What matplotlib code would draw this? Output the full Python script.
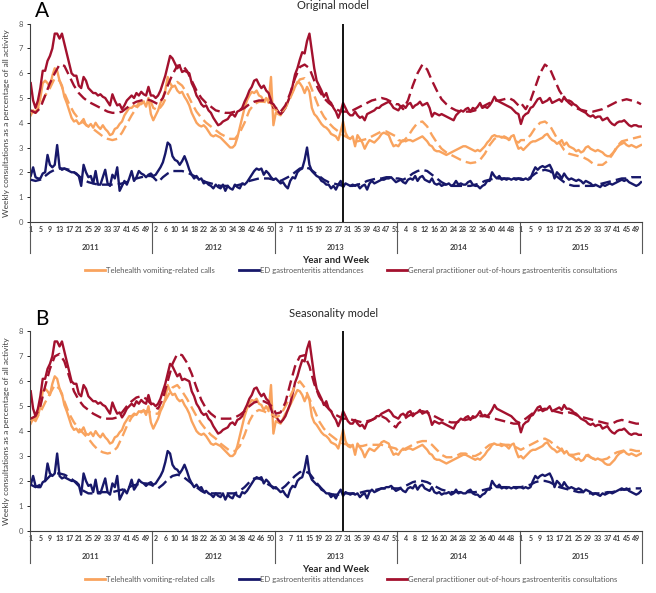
import numpy as np
import matplotlib.pyplot as plt
from matplotlib.lines import Line2D

plt.rcParams['font.family'] = ['Lato', 'DejaVu Sans']

years = ["2011", "2012", "2013", "2014", "2015"]
weeks_per_year = 51
cut_week = 130  # start of the prospective period (2013 week 29)

series_names = ["Telehealth vomiting-related calls",
                "ED gastroenteritis attendances",
                "General practitioner out-of-hours gastroenteritis consultations"]

# observed weekly values (% of all activity), one row of 51 per year
tele_obs = [
    4.3, 4.5, 4.4, 4.6, 5.0, 5.6, 5.7, 5.6, 5.45, 5.9, 6.2, 6.1, 5.7, 5.5, 5.05, 4.8, 4.5, 4.2, 4.05, 4.1,
    3.95, 4.0, 4.15, 3.9, 3.85, 3.95, 3.8, 4.0, 3.85, 3.75, 3.9, 3.75, 3.65, 3.5, 3.55, 3.75, 3.8, 3.95, 4.05, 4.3,
    4.45, 4.6, 4.6, 4.7, 4.65, 4.8, 4.75, 4.85, 4.65, 5.0, 4.35,
    4.1, 4.3, 4.5, 4.8, 5.0, 5.3, 5.85, 5.6, 5.45, 5.5, 5.3, 5.2, 5.25, 5.05, 4.9, 4.7, 4.4, 4.2, 4.0, 3.9,
    3.85, 3.9, 3.8, 3.65, 3.5, 3.45, 3.5, 3.45, 3.4, 3.3, 3.2, 3.1, 3.0, 3.0, 3.1, 3.4, 3.8, 4.2, 4.6, 4.9,
    5.1, 5.25, 5.2, 5.3, 5.1, 5.05, 4.85, 5.0, 4.8, 5.85, 3.9,
    4.4, 4.35, 4.3, 4.5, 4.7, 4.85, 5.05, 5.25, 5.45, 5.65, 5.6, 5.45, 5.2, 5.45, 5.25, 4.6, 4.35, 4.25, 4.1, 3.95,
    3.85, 3.8, 3.7, 3.55, 3.5, 3.45, 3.3, 3.65, 4.05, 3.6, 3.4, 3.35, 3.45, 3.05, 3.5, 3.35, 3.2, 2.95, 3.15, 3.3,
    3.25, 3.2, 3.3, 3.4, 3.55, 3.6, 3.55, 3.5, 3.25, 3.05, 3.1,
    3.05, 3.2, 3.3, 3.25, 3.3, 3.3, 3.25, 3.3, 3.35, 3.4, 3.45, 3.35, 3.25, 3.1, 3.05, 2.9, 2.85, 2.85, 2.8, 2.75,
    2.7, 2.75, 2.8, 2.85, 2.9, 2.95, 3.0, 3.05, 3.05, 3.0, 2.95, 2.9, 2.85, 2.9, 2.85, 2.95, 3.05, 3.2, 3.3, 3.45,
    3.5, 3.45, 3.45, 3.4, 3.45, 3.4, 3.3, 3.45, 3.5, 3.2, 2.95,
    3.0, 2.9, 3.0, 3.1, 3.2, 3.25, 3.25, 3.3, 3.35, 3.4, 3.5, 3.55, 3.4, 3.3, 3.25, 3.15, 3.2, 3.3, 3.1, 3.2,
    3.05, 3.0, 2.95, 2.85, 2.9, 2.8, 2.85, 3.0, 3.05, 2.95, 2.9, 2.85, 2.9, 2.85, 2.8, 2.7, 2.65, 2.65, 2.75, 2.85,
    3.0, 3.1, 3.15, 3.2, 3.1, 3.05, 3.1, 3.05, 3.0, 3.05, 3.1,
]
ed_obs = [
    1.85, 2.2, 1.8, 1.75, 1.75, 1.95, 2.0, 2.7, 2.3, 2.2, 2.3, 3.1, 2.2, 2.1, 2.15, 2.1, 2.05, 2.0, 2.0, 1.95,
    1.85, 1.45, 2.3, 2.0, 1.8, 1.85, 1.55, 2.05, 1.5, 1.5, 1.8, 2.1, 1.55, 1.45, 1.9, 1.75, 2.2, 1.25, 1.45, 1.65,
    1.5, 1.75, 2.05, 1.65, 1.8, 2.05, 1.95, 1.9, 1.8, 1.9, 1.95,
    1.85, 1.9, 2.05, 2.2, 2.4, 2.75, 3.2, 3.1, 2.65, 2.5, 2.45, 2.3, 2.45, 2.65, 2.4, 2.1, 1.9, 1.75, 1.85, 1.7,
    1.75, 1.55, 1.6, 1.5, 1.45, 1.35, 1.5, 1.4, 1.35, 1.5, 1.25, 1.45, 1.35, 1.3, 1.5, 1.4, 1.35, 1.55, 1.5, 1.6,
    1.75, 1.9, 2.05, 2.15, 2.1, 2.15, 1.9, 2.05, 1.95, 1.8, 1.7,
    1.75, 1.65, 1.55, 1.6, 1.45, 1.35, 1.65, 1.8, 1.75, 2.0, 2.1, 2.15, 2.5, 3.0, 2.3, 2.05, 1.95, 1.85, 1.8, 1.65,
    1.6, 1.5, 1.5, 1.35, 1.45, 1.3, 1.5, 1.65, 1.4, 1.55, 1.5, 1.45, 1.5, 1.45, 1.5, 1.35, 1.45, 1.5, 1.3, 1.55,
    1.65, 1.55, 1.6, 1.65, 1.7, 1.7, 1.75, 1.75, 1.8, 1.7, 1.6,
    1.65, 1.7, 1.6, 1.55, 1.7, 1.75, 1.7, 1.85, 1.65, 1.8, 1.85, 1.7, 1.65, 1.6, 1.75, 1.55, 1.5, 1.55, 1.45, 1.5,
    1.5, 1.55, 1.45, 1.5, 1.65, 1.5, 1.55, 1.5, 1.5, 1.6, 1.65, 1.5, 1.45, 1.45, 1.35, 1.45, 1.5, 1.65, 1.65, 2.0,
    1.85, 1.75, 1.85, 1.7, 1.75, 1.7, 1.75, 1.7, 1.75, 1.7, 1.75,
    1.75, 1.7, 1.75, 1.7, 1.75, 2.0, 2.2, 2.1, 2.2, 2.25, 2.2, 2.25, 2.3, 2.1, 1.75, 2.0, 1.9, 1.75, 1.95, 1.8,
    1.7, 1.75, 1.7, 1.65, 1.7, 1.65, 1.55, 1.65, 1.6, 1.55, 1.45, 1.5, 1.45, 1.4, 1.5, 1.45, 1.5, 1.55, 1.5, 1.55,
    1.6, 1.65, 1.7, 1.65, 1.7, 1.6, 1.55, 1.5, 1.45, 1.5, 1.6,
]
gp_obs = [
    5.6, 4.9, 4.6, 4.9, 5.4, 6.1, 6.1, 6.5, 6.7, 7.0, 7.6, 7.6, 7.4, 7.6, 7.2, 6.8, 6.4, 6.0, 5.9, 5.9,
    5.5, 5.4, 5.85, 5.7, 5.4, 5.3, 5.2, 5.2, 5.1, 5.15, 5.05, 5.0, 4.85, 4.7, 5.15, 4.9, 4.7, 4.75, 4.55, 4.7,
    4.9, 5.0, 5.1, 5.0, 5.2, 5.1, 5.25, 5.15, 5.1, 5.45, 5.1,
    5.1, 5.0, 5.1, 5.3, 5.6, 5.9, 6.3, 6.7, 6.6, 6.4, 6.2, 6.3, 6.05, 6.1, 6.05, 6.0, 5.6, 5.4, 5.1, 4.95,
    4.75, 4.65, 4.7, 4.5, 4.4, 4.2, 4.05, 3.9, 3.95, 4.05, 4.1, 4.15, 4.3, 4.35, 4.25, 4.45, 4.5, 4.6, 4.85, 5.05,
    5.3, 5.45, 5.7, 5.75, 5.55, 5.4, 5.5, 5.3, 5.2, 4.9, 4.6,
    4.6, 4.45, 4.35, 4.45, 4.6, 4.85, 5.1, 5.5, 5.95, 6.2, 6.55, 6.85, 6.8, 7.3, 7.6, 6.9, 6.2, 5.7, 5.5, 5.3,
    5.05, 5.2, 4.9, 4.8, 4.6, 4.45, 4.2, 4.45, 4.8, 4.6, 4.4, 4.3, 4.3, 4.45, 4.3, 4.2, 4.25, 4.1, 4.35, 4.4,
    4.45, 4.5, 4.6, 4.6, 4.7, 4.75, 4.8, 4.85, 4.75, 4.6, 4.55,
    4.5, 4.65, 4.7, 4.6, 4.75, 4.8, 4.6, 4.7, 4.75, 4.85, 4.7, 4.75, 4.8, 4.6, 4.25, 4.4, 4.35, 4.3, 4.35, 4.3,
    4.25, 4.2, 4.15, 4.1, 4.3, 4.4, 4.5, 4.45, 4.55, 4.6, 4.45, 4.6, 4.55, 4.65, 4.8, 4.6, 4.65, 4.6, 4.7, 4.85,
    5.05, 4.9, 4.85, 4.8, 4.75, 4.7, 4.65, 4.6, 4.5, 4.4, 4.35,
    3.95, 4.25, 4.35, 4.4, 4.6, 4.65, 4.8, 4.95, 5.0, 4.8, 4.85, 4.9, 5.0, 4.8, 4.85, 4.9, 4.95, 4.85, 5.05, 4.9,
    4.9, 4.85, 4.75, 4.7, 4.6, 4.5, 4.45, 4.4, 4.3, 4.25, 4.3, 4.2, 4.25, 4.25, 4.1, 4.15, 4.2, 4.05, 3.95, 3.9,
    4.0, 4.05, 4.05, 4.1, 4.0, 3.9, 3.85, 3.9, 3.9, 3.85, 3.85,
]

# model estimates, every second week (26 per year)
tele_model_a = [
    4.4, 4.45, 4.7, 5.1, 5.4, 5.8, 5.7, 5.2, 4.75, 4.4, 4.15, 4.0, 3.85, 3.75, 3.6, 3.45, 3.35, 3.3, 3.35, 3.6, 3.95, 4.3, 4.6, 4.8, 4.9, 4.85,
    4.6, 4.5, 4.75, 5.15, 5.5, 5.65, 5.5, 5.2, 4.8, 4.45, 4.2, 4.0, 3.85, 3.7, 3.55, 3.45, 3.35, 3.35, 3.6, 4.0, 4.5, 4.75, 4.85, 4.85, 4.8, 4.7,
    4.5, 4.4, 4.6, 5.0, 5.45, 5.75, 5.8, 5.6, 5.1, 4.6, 4.25, 4.0, 3.8, 3.65, 3.5, 3.4, 3.3, 3.25, 3.3, 3.35, 3.45, 3.55, 3.65, 3.65, 3.55, 3.45,
    3.3, 3.25, 3.45, 3.75, 4.0, 4.05, 3.85, 3.5, 3.2, 2.95, 2.8, 2.7, 2.6, 2.5, 2.42, 2.37, 2.4, 2.5, 2.75, 3.1, 3.35, 3.45, 3.4, 3.35, 3.3, 3.2,
    3.3, 3.3, 3.5, 3.8, 4.0, 4.05, 3.9, 3.55, 3.2, 2.9, 2.75, 2.7, 2.65, 2.6, 2.5, 2.35, 2.3, 2.3, 2.45, 2.7, 3.05, 3.25, 3.3, 3.35, 3.4, 3.45,
]
ed_model_a = [
    1.7, 1.65, 1.7, 1.85, 2.0, 2.1, 2.15, 2.15, 2.1, 2.0, 1.85, 1.7, 1.6, 1.55, 1.5, 1.5, 1.5, 1.5, 1.5, 1.55, 1.6, 1.7, 1.75, 1.8, 1.85, 1.85,
    1.8, 1.6, 1.8, 1.95, 2.05, 2.05, 2.05, 2.0, 1.9, 1.8, 1.7, 1.6, 1.55, 1.5, 1.45, 1.45, 1.45, 1.45, 1.5, 1.55, 1.65, 1.7, 1.75, 1.75, 1.75, 1.7,
    1.7, 1.65, 1.75, 1.85, 2.0, 2.15, 2.2, 2.15, 2.0, 1.85, 1.7, 1.6, 1.55, 1.5, 1.45, 1.45, 1.45, 1.5, 1.55, 1.65, 1.7, 1.75, 1.75, 1.8, 1.8, 1.75,
    1.75, 1.7, 1.8, 1.95, 2.05, 2.1, 2.05, 1.9, 1.75, 1.6, 1.5, 1.45, 1.45, 1.45, 1.45, 1.45, 1.5, 1.55, 1.65, 1.7, 1.75, 1.75, 1.75, 1.75, 1.75, 1.75,
    1.7, 1.7, 1.8, 1.95, 2.05, 2.1, 2.05, 1.9, 1.75, 1.6, 1.5, 1.45, 1.45, 1.45, 1.45, 1.45, 1.5, 1.55, 1.6, 1.65, 1.7, 1.75, 1.75, 1.8, 1.8, 1.8,
]
gp_model_a = [
    4.5, 4.4, 4.6, 5.1, 5.6, 6.0, 6.35, 6.3, 5.9, 5.5, 5.2, 5.0, 4.85, 4.75, 4.65, 4.55, 4.45, 4.4, 4.4, 4.45, 4.6, 4.75, 4.85, 4.9, 4.95, 4.9,
    4.85, 4.75, 5.0, 5.5, 5.95, 6.3, 6.35, 6.1, 5.7, 5.3, 5.0, 4.8, 4.65, 4.5, 4.45, 4.4, 4.4, 4.45, 4.5, 4.6, 4.75, 4.85, 4.9, 4.9, 4.85, 4.75,
    4.6, 4.45, 4.7, 5.2, 5.8, 6.25, 6.35, 6.2, 5.7, 5.3, 5.0, 4.8, 4.65, 4.5, 4.45, 4.45, 4.5, 4.6, 4.7, 4.8, 4.9, 4.95, 5.0, 4.95, 4.85, 4.75,
    4.75, 4.55, 4.9, 5.5, 6.0, 6.35, 6.15, 5.7, 5.3, 4.95, 4.75, 4.6, 4.5, 4.45, 4.45, 4.45, 4.5, 4.6, 4.7, 4.8, 4.9, 4.9, 4.95, 5.0, 4.9, 4.7,
    4.8, 4.55, 4.9, 5.45, 6.0, 6.35, 6.2, 5.75, 5.3, 5.0, 4.8, 4.65, 4.55, 4.5, 4.45, 4.45, 4.5, 4.55, 4.65, 4.75, 4.85, 4.9, 4.95, 4.9, 4.85, 4.75,
]
tele_model_b = [
    4.4, 4.5, 4.75, 5.15, 5.5, 5.85, 5.7, 5.2, 4.7, 4.35, 4.1, 3.9, 3.7, 3.45, 3.25, 3.15, 3.1, 3.15, 3.35, 3.75, 4.2, 4.55, 4.75, 4.8, 4.8, 4.75,
    4.7, 4.7, 5.05, 5.4, 5.75, 5.85, 5.6, 5.3, 4.95, 4.6, 4.3, 4.05, 3.85, 3.7, 3.5, 3.35, 3.2, 3.2, 3.4, 3.85, 4.4, 4.75, 4.85, 4.8, 4.7, 4.65,
    4.55, 4.65, 5.0, 5.4, 5.8, 6.0, 5.75, 5.3, 4.85, 4.4, 4.1, 3.9, 3.75, 3.6, 3.5, 3.45, 3.4, 3.4, 3.4, 3.45, 3.45, 3.45, 3.45, 3.4, 3.35, 3.3,
    3.2, 3.25, 3.35, 3.45, 3.55, 3.6, 3.6, 3.45, 3.25, 3.05, 2.95, 2.95, 3.0, 3.1, 3.1, 3.0, 3.0, 3.1, 3.3, 3.45, 3.5, 3.5, 3.45, 3.45, 3.4, 3.3,
    3.25, 3.35, 3.45, 3.55, 3.65, 3.7, 3.6, 3.45, 3.3, 3.15, 3.05, 3.05, 3.1, 3.05, 3.0, 2.9, 2.85, 2.85, 2.9, 3.05, 3.15, 3.2, 3.25, 3.25, 3.2, 3.2,
]
ed_model_b = [
    1.85, 1.75, 1.85, 2.0, 2.2, 2.3, 2.3, 2.25, 2.15, 2.0, 1.8, 1.6, 1.5, 1.5, 1.55, 1.55, 1.55, 1.55, 1.6, 1.65, 1.7, 1.8, 1.85, 1.9, 1.9, 1.85,
    1.8, 1.7, 1.85, 2.05, 2.2, 2.25, 2.2, 2.05, 1.9, 1.75, 1.6, 1.5, 1.5, 1.5, 1.5, 1.5, 1.5, 1.5, 1.6, 1.75, 1.95, 2.1, 2.1, 2.0, 1.85, 1.75,
    1.7, 1.65, 1.8, 2.0, 2.2, 2.35, 2.4, 2.3, 2.05, 1.8, 1.6, 1.5, 1.45, 1.45, 1.5, 1.5, 1.5, 1.5, 1.55, 1.6, 1.6, 1.65, 1.7, 1.7, 1.7, 1.7,
    1.7, 1.75, 1.85, 1.95, 2.0, 2.0, 1.95, 1.85, 1.75, 1.65, 1.6, 1.55, 1.55, 1.55, 1.55, 1.55, 1.55, 1.6, 1.65, 1.7, 1.75, 1.75, 1.75, 1.75, 1.75, 1.75,
    1.75, 1.8, 1.85, 1.95, 2.0, 2.0, 1.95, 1.85, 1.75, 1.7, 1.65, 1.6, 1.55, 1.55, 1.5, 1.5, 1.5, 1.5, 1.55, 1.55, 1.6, 1.65, 1.65, 1.7, 1.7, 1.7,
]
gp_model_b = [
    4.5, 4.6, 5.0, 5.8, 6.5, 7.0, 7.1, 6.8, 6.2, 5.6, 5.25, 5.0, 4.85, 4.7, 4.6, 4.5, 4.5, 4.5, 4.55, 4.75, 5.0, 5.2, 5.35, 5.4, 5.3, 5.1,
    5.0, 4.9, 5.3, 6.0, 6.7, 7.1, 7.05, 6.75, 6.3, 5.75, 5.25, 4.9, 4.7, 4.55, 4.5, 4.5, 4.5, 4.55, 4.65, 4.8, 5.0, 5.15, 5.2, 5.2, 5.1, 4.95,
    4.7, 4.75, 5.15, 5.9, 6.6, 7.0, 7.05, 6.6, 5.9, 5.4, 5.1, 4.9, 4.7, 4.6, 4.5, 4.5, 4.45, 4.4, 4.35, 4.4, 4.45, 4.55, 4.6, 4.5, 4.3, 4.15,
    4.3, 4.45, 4.6, 4.7, 4.75, 4.8, 4.75, 4.65, 4.55, 4.45, 4.4, 4.35, 4.35, 4.4, 4.45, 4.5, 4.55, 4.6, 4.6, 4.55, 4.5, 4.45, 4.4, 4.35, 4.3, 4.3,
    4.4, 4.5, 4.65, 4.8, 4.85, 4.9, 4.85, 4.8, 4.75, 4.7, 4.75, 4.7, 4.6, 4.55, 4.5, 4.45, 4.4, 4.35, 4.3, 4.3, 4.4, 4.45, 4.4, 4.35, 4.3, 4.3,
]

ORANGE = "#F9A35E"
NAVY = "#17186A"
RED = "#A3112E"
colors = [ORANGE, NAVY, RED]

n_weeks = len(years) * weeks_per_year
week_idx = np.arange(n_weeks)
model_idx = np.array([y * weeks_per_year + k for y in range(len(years))
                      for k in range(0, weeks_per_year, 2)])
week_labels = [str(k + 1) for y in range(len(years)) for k in range(weeks_per_year)]


def draw_panel(ax, models, title, letter):
    for obs, col in zip([tele_obs, ed_obs, gp_obs], colors):
        ax.plot(week_idx, obs, color=col, lw=1.7, zorder=2)
    for mod, col in zip(models, colors):
        ax.plot(model_idx, mod, color=col, lw=1.7, ls=(0, (4.5, 2.2)), zorder=3)
    ax.axvline(cut_week, color="black", lw=1.3, zorder=4)

    ax.set_xlim(-0.5, n_weeks - 0.5)
    ax.set_ylim(0, 8)
    for s in ["top", "right"]:
        ax.spines[s].set_visible(False)
    ax.spines["left"].set_color("#404040")
    ax.spines["bottom"].set_color("#404040")
    ax.set_yticks(range(9))
    ax.tick_params(axis="y", labelsize=5.5, labelcolor="#595959", length=2.5, width=0.6, pad=2)
    ax.set_xticks(week_idx[::4])
    ax.set_xticklabels(week_labels[::4], fontsize=5, fontweight="bold", color="#404040")
    ax.tick_params(axis="x", length=0, pad=3)
    ax.set_ylabel("Weekly consultations as a percentage of all activity", fontsize=6, color="#404040")
    ax.yaxis.set_label_coords(-0.032, 0.5)

    trans = ax.get_xaxis_transform()
    for y in range(len(years) + 1):
        b = y * weeks_per_year - 0.5
        ax.plot([b, b], [0, -0.16], transform=trans, color="#595959", lw=0.8, clip_on=False)
    for y, yr in enumerate(years):
        ax.text(y * weeks_per_year + weeks_per_year / 2 - 0.5, -0.128, yr, transform=trans,
                ha="center", va="center", fontsize=5.5, fontweight="bold", color="#404040")
    ax.text(0.5, -0.195, "Year and Week", transform=ax.transAxes, ha="center", va="center",
            fontsize=7, fontweight="bold", color="#262626")

    handles = [Line2D([], [], color=c, lw=2) for c in colors]
    ax.legend(handles, series_names, loc="center", bbox_to_anchor=(0.525, -0.245), ncol=3,
              frameon=False, fontsize=5.5, handlelength=2.6, handletextpad=0.1,
              columnspacing=3.2, labelcolor="#595959")

    pos = ax.get_position()
    fig.text(0.508, pos.y1 + 0.03, title, ha="center", va="center", fontsize=8, color="#262626")
    fig.text(0.064, pos.y1 + 0.021, letter, ha="center", va="center", fontsize=15, color="black")


fig = plt.figure(figsize=(6.56, 5.93), dpi=100)
ax_a = fig.add_axes([0.045, 0.626, 0.934, 0.334])
ax_b = fig.add_axes([0.045, 0.105, 0.934, 0.336])
draw_panel(ax_a, [tele_model_a, ed_model_a, gp_model_a], "Original model", "A")
draw_panel(ax_b, [tele_model_b, ed_model_b, gp_model_b], "Seasonality model", "B")

fig.savefig("out.png", dpi=100)
